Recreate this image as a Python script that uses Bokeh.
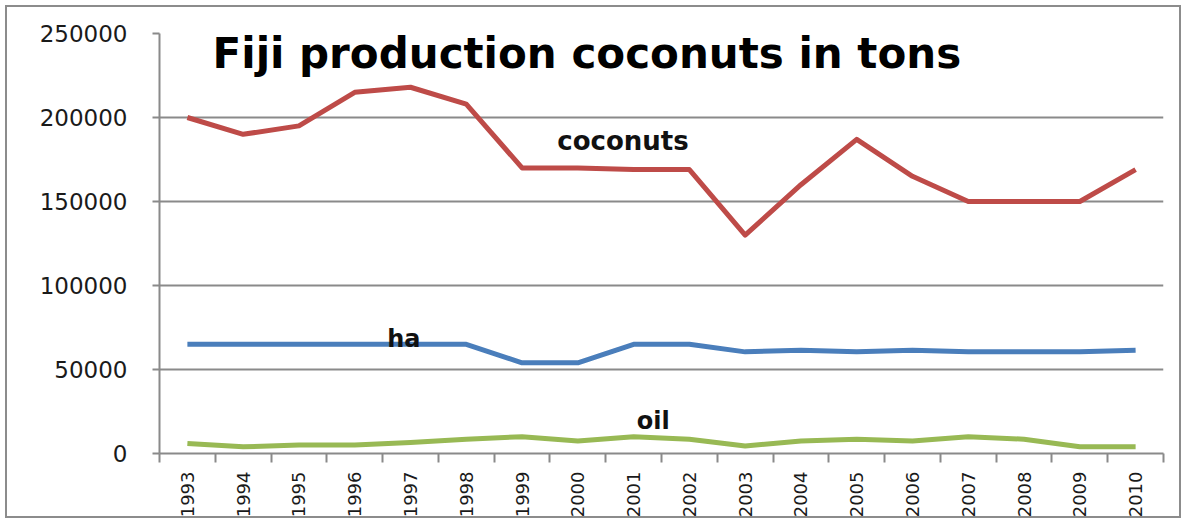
import math
from bokeh.plotting import figure
from bokeh.models import Range1d, FixedTicker, Label
from bokeh.embed import file_html
from bokeh.resources import INLINE

years = [1993, 1994, 1995, 1996, 1997, 1998, 1999, 2000, 2001, 2002,
         2003, 2004, 2005, 2006, 2007, 2008, 2009, 2010]
coconuts = [200000, 190000, 195000, 215000, 218000, 208000, 170000, 170000, 169000,
            169000, 130000, 160000, 187000, 165000, 150000, 150000, 150000, 169000]
ha = [65000, 65000, 65000, 65000, 65000, 65000, 54000, 54000, 65000,
      65000, 60500, 61500, 60500, 61500, 60500, 60500, 60500, 61500]
oil = [6000, 4000, 5000, 5000, 6500, 8500, 10000, 7500, 10000,
       8500, 4500, 7500, 8500, 7500, 10000, 8500, 4000, 4000]
y_ticks = [0, 50000, 100000, 150000, 200000, 250000]

xs = list(range(len(years)))
W, H = 1176, 513

p = figure(width=W, height=H, output_backend="svg", toolbar_location=None,
           x_range=Range1d(-0.5, len(years) - 0.5), y_range=Range1d(0, 250000),
           min_border_left=152, min_border_right=20, min_border_top=26, min_border_bottom=67)
p.styles = {"border": "2px solid #8c8c8c", "margin": "5px"}
p.outline_line_color = None
p.background_fill_color = "white"
p.border_fill_color = "white"

GRID = "#8a8a8a"
p.xgrid.grid_line_color = None
p.ygrid.grid_line_color = GRID
p.ygrid.grid_line_width = 2

p.xaxis.ticker = FixedTicker(ticks=xs, minor_ticks=[i - 0.5 for i in range(len(years) + 1)])
p.xaxis.major_label_overrides = {i: str(y) for i, y in zip(xs, years)}
p.xaxis.major_tick_line_color = None
p.xaxis.major_tick_out = 8
p.xaxis.major_tick_in = 0
p.xaxis.minor_tick_line_color = GRID
p.xaxis.minor_tick_line_width = 2
p.xaxis.minor_tick_out = 9
p.xaxis.minor_tick_in = 0
p.xaxis.axis_line_color = GRID
p.xaxis.axis_line_width = 2
p.xaxis.major_label_orientation = math.pi / 2
p.xaxis.major_label_standoff = 9
p.xaxis.major_label_text_font = "DejaVu Sans"
p.xaxis.major_label_text_font_size = "18px"
p.xaxis.major_label_text_color = "#1a1a1a"

p.yaxis.ticker = FixedTicker(ticks=y_ticks, minor_ticks=[])
p.yaxis.major_label_overrides = {t: str(t) for t in y_ticks}
p.yaxis.axis_line_color = GRID
p.yaxis.axis_line_width = 2
p.yaxis.major_tick_line_color = GRID
p.yaxis.major_tick_line_width = 2
p.yaxis.major_tick_out = 7
p.yaxis.major_tick_in = 0
p.yaxis.major_label_standoff = 25
p.yaxis.major_label_text_font = "DejaVu Sans"
p.yaxis.major_label_text_font_size = "23px"
p.yaxis.major_label_text_color = "#1a1a1a"

p.line(xs, coconuts, line_color="#BE4B48", line_width=5, line_join="round")
p.line(xs, ha, line_color="#4A7EBB", line_width=5, line_join="round")
p.line(xs, oil, line_color="#98B954", line_width=5, line_join="round")

p.add_layout(Label(x=0.451, y=238100, text="Fiji production coconuts in tons",
                   text_font="DejaVu Sans", text_font_style="bold", text_font_size="42px",
                   text_color="#000000", text_baseline="alphabetic", text_align="left"))
p.add_layout(Label(x=7.81, y=186300, text="coconuts", text_font="DejaVu Sans",
                   text_font_style="bold", text_font_size="26px", text_color="#111111",
                   text_baseline="alphabetic", text_align="center"))
p.add_layout(Label(x=3.88, y=67900, text="ha", text_font="DejaVu Sans",
                   text_font_style="bold", text_font_size="24px", text_color="#111111",
                   text_baseline="alphabetic", text_align="center"))
p.add_layout(Label(x=8.35, y=19050, text="oil", text_font="DejaVu Sans",
                   text_font_style="bold", text_font_size="24px", text_color="#111111",
                   text_baseline="alphabetic", text_align="center"))

open("out.html", "w").write(file_html(p, INLINE))
